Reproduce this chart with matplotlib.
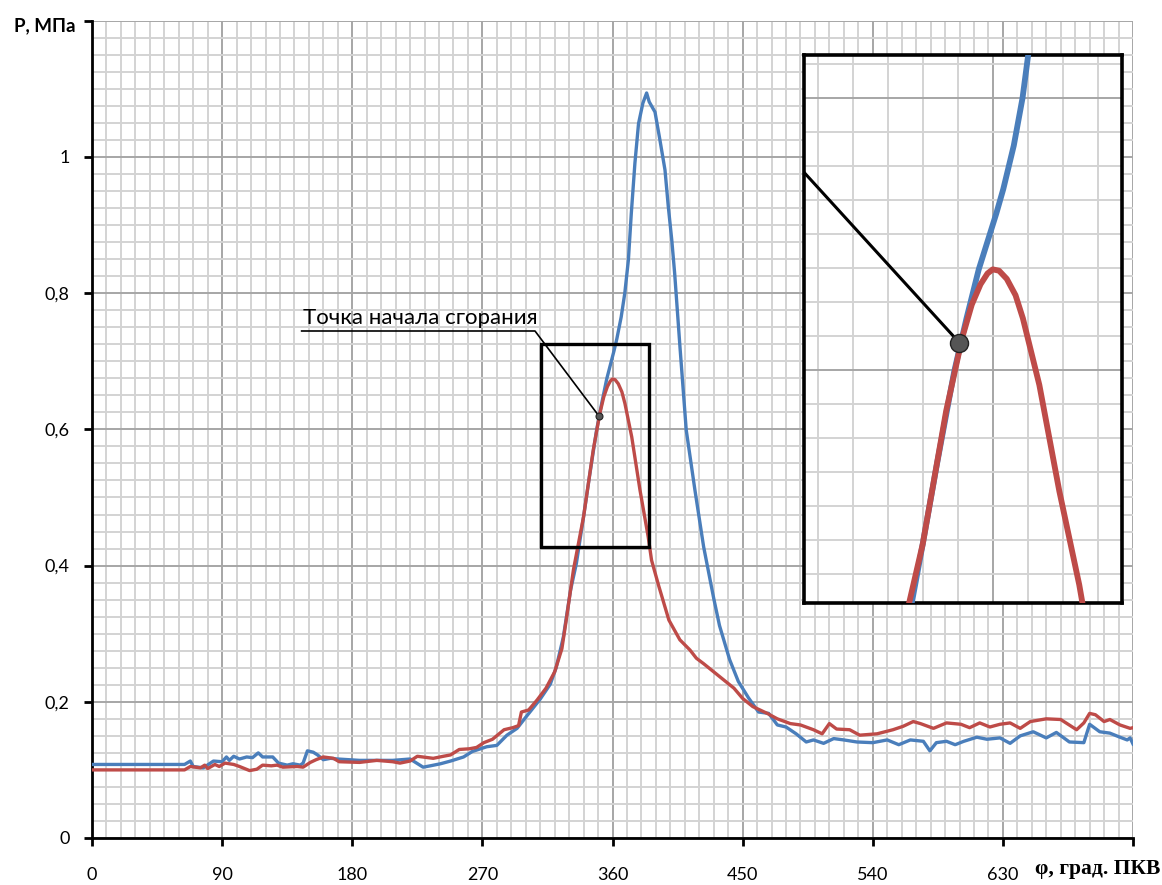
import matplotlib
matplotlib.use("Agg")
import matplotlib.pyplot as plt
from matplotlib.ticker import MultipleLocator
from matplotlib.patches import Rectangle

# crank angle (deg) and cylinder pressure (MPa), two runs
phi_blue = [0, 64, 68, 70, 77, 84, 90, 93, 95, 98, 102, 107, 111, 115, 118, 125,
            129, 135, 139, 144, 146, 149, 153, 156, 160, 165, 170, 185, 208, 220,
            229, 234, 241, 248, 257, 263, 273, 280, 287, 294, 301, 310, 317, 321,
            326, 331, 335, 340, 344, 349, 352.5, 356, 361, 363, 366, 368.5, 371,
            373, 375.5, 378, 381, 383.6, 385.4, 389.4, 392.8, 396.3, 398.6, 401,
            403, 406.7, 411, 417, 423, 430, 434, 441, 447, 454, 461, 468, 474,
            480, 487, 494, 499, 506, 513, 520, 529, 540, 550, 558, 566, 575,
            579.5, 584, 591, 597, 603, 612, 619, 628, 635, 642, 651, 660, 667,
            676, 686, 690, 697, 704, 711, 716, 718, 720]
p_blue = [0.108, 0.108, 0.113, 0.105, 0.103, 0.113, 0.112, 0.119, 0.114, 0.120,
          0.116, 0.119, 0.118, 0.125, 0.119, 0.119, 0.110, 0.107, 0.109, 0.107,
          0.110, 0.128, 0.126, 0.122, 0.115, 0.117, 0.116, 0.114, 0.114, 0.116,
          0.104, 0.106, 0.109, 0.113, 0.119, 0.127, 0.134, 0.136, 0.151, 0.161,
          0.180, 0.204, 0.226, 0.250, 0.295, 0.364, 0.403, 0.472, 0.530, 0.599,
          0.638, 0.674, 0.715, 0.733, 0.765, 0.800, 0.849, 0.917, 0.991, 1.049,
          1.079, 1.094, 1.081, 1.066, 1.025, 0.981, 0.927, 0.878, 0.829, 0.720,
          0.599, 0.511, 0.428, 0.352, 0.312, 0.262, 0.230, 0.206, 0.185, 0.183,
          0.166, 0.163, 0.153, 0.141, 0.144, 0.139, 0.146, 0.144, 0.141, 0.140,
          0.144, 0.137, 0.144, 0.142, 0.128, 0.140, 0.142, 0.137, 0.142, 0.148,
          0.145, 0.147, 0.139, 0.150, 0.156, 0.147, 0.155, 0.141, 0.140, 0.167,
          0.156, 0.154, 0.148, 0.144, 0.147, 0.138]

phi_red = [0, 64, 68, 75, 78, 80, 85, 88, 92, 98, 102, 109, 114, 118, 124, 128,
           132, 142, 146, 151, 155, 160, 167, 171, 185, 197, 208, 213, 220, 225,
           236, 243, 248, 254, 261, 266, 271, 277, 285, 291, 295, 297, 302, 308,
           314, 320, 325, 328, 333, 340, 346.7, 351.3, 354, 356.5, 358.5, 360,
           361.8, 364, 366.5, 368.6, 373.3, 379, 384.7, 387, 392, 399, 406.6,
           413.6, 418, 423, 430, 437, 444, 450, 457, 467, 474, 483, 490, 499,
           505, 510, 515, 524, 531, 543, 554, 561, 568, 573, 582, 591, 601, 607,
           614, 621, 628, 635, 642, 649, 660, 670, 681, 686, 690, 694, 700, 704,
           711, 718, 720]
p_red = [0.100, 0.100, 0.105, 0.103, 0.107, 0.102, 0.108, 0.105, 0.110, 0.108,
         0.105, 0.099, 0.101, 0.107, 0.106, 0.107, 0.104, 0.105, 0.104, 0.111,
         0.115, 0.119, 0.117, 0.112, 0.111, 0.114, 0.112, 0.110, 0.113, 0.120,
         0.117, 0.120, 0.122, 0.130, 0.131, 0.133, 0.140, 0.145, 0.159, 0.162,
         0.165, 0.185, 0.188, 0.203, 0.220, 0.244, 0.278, 0.320, 0.394, 0.472,
         0.570, 0.624, 0.648, 0.663, 0.671, 0.674, 0.673, 0.667, 0.655, 0.638,
         0.589, 0.511, 0.442, 0.408, 0.370, 0.320, 0.291, 0.276, 0.264, 0.256,
         0.244, 0.232, 0.220, 0.205, 0.193, 0.183, 0.175, 0.168, 0.166, 0.159,
         0.153, 0.168, 0.160, 0.159, 0.151, 0.153, 0.159, 0.164, 0.171, 0.168,
         0.161, 0.169, 0.167, 0.162, 0.169, 0.163, 0.167, 0.169, 0.161, 0.171,
         0.175, 0.174, 0.159, 0.169, 0.183, 0.181, 0.171, 0.174, 0.166, 0.161,
         0.162]

x_ticks = [0, 90, 180, 270, 360, 450, 540, 630, 720]
x_labels = ["0", "90", "180", "270", "360", "450", "540", "630", ""]
y_ticks = [0, 0.2, 0.4, 0.6, 0.8, 1.0, 1.2]
y_labels = ["0", "0,2", "0,4", "0,6", "0,8", "1", ""]

# start-of-combustion point and the zoom window around it
ign_phi, ign_p = 350.5, 0.620
box_phi = (310.5, 385.2)
box_p = (0.427, 0.725)
leader_start = (306.4, 0.7445)
note_left = 145.0

BLUE = "#4a7ebb"
RED = "#be4b48"
W, H = 1162, 885


def paper_grid(a):
    a.xaxis.set_minor_locator(MultipleLocator(10))
    a.yaxis.set_minor_locator(MultipleLocator(0.025))
    a.grid(which="minor", color="#d3d3d3", lw=1.4)
    a.grid(which="major", color="#a6a6a6", lw=1.4)
    a.set_axisbelow(True)


fig = plt.figure(figsize=(W / 100, H / 100), dpi=100)
ax = fig.add_axes([92 / W, 1 - 838 / H, 1041 / W, (838 - 20.8) / H])
ax.set_xlim(0, 720)
ax.set_ylim(0, 1.2)
ax.xaxis.set_major_locator(MultipleLocator(90))
ax.yaxis.set_major_locator(MultipleLocator(0.2))
paper_grid(ax)
for s in ("top", "right"):
    ax.spines[s].set_visible(False)
for s in ("left", "bottom"):
    ax.spines[s].set_linewidth(2)
ax.set_xticks(x_ticks, x_labels, fontfamily="Lato", fontsize=13)
ax.set_yticks(y_ticks, y_labels, fontfamily="Lato", fontsize=13)
ax.tick_params(which="major", direction="out", length=6, width=2, color="black")
ax.tick_params(axis="x", pad=15)
ax.tick_params(axis="y", pad=10)
ax.tick_params(which="minor", length=0)

ax.plot(phi_blue, p_blue, color=BLUE, lw=2.4, zorder=3)
ax.plot(phi_red, p_red, color=RED, lw=2.4, zorder=4)

ax.add_patch(Rectangle((box_phi[0], box_p[0]), box_phi[1] - box_phi[0],
                       box_p[1] - box_p[0], fill=False, ec="black", lw=2.4, zorder=5))
ax.plot([note_left, leader_start[0], ign_phi], [leader_start[1], leader_start[1], ign_p],
        color="black", lw=1.2, zorder=6)
ax.plot(ign_phi, ign_p, "o", ms=5, mfc="#555555", mec="#222222", mew=0.8, zorder=7)
ax.text(note_left + 1, leader_start[1] + 0.005, "Точка начала сгорания",
        fontfamily="Lato", fontsize=16, ha="left", va="bottom", zorder=6)

fig.text(76 / W, 1 - 26 / H, "P, МПа", fontfamily="Lato", fontweight="bold",
         fontsize=13.5, ha="right", va="center")
fig.text(1160 / W, 1 - 869 / H, "φ, град. ПКВ", fontfamily="Liberation Serif",
         fontweight="bold", fontsize=15.5, ha="right", va="center")

# magnified view of the ignition region
ins = fig.add_axes([804 / W, 1 - 603 / H, 318 / W, 548 / H])
ins.set_xlim(306.1, 396.9)
ins.set_ylim(0.4287, 0.8316)
ins.xaxis.set_major_locator(MultipleLocator(90))
ins.yaxis.set_major_locator(MultipleLocator(0.2))
paper_grid(ins)
ins.tick_params(which="both", length=0, labelbottom=False, labelleft=False)
for s in ins.spines.values():
    s.set_linewidth(2.6)
    s.set_color("black")
ins.plot(phi_blue, p_blue, color=BLUE, lw=4.2, zorder=3)
ins.plot(phi_red, p_red, color=RED, lw=4.2, zorder=4)
ins.plot([leader_start[0], ign_phi], [leader_start[1], ign_p], color="black", lw=2.2, zorder=6)
ins.plot(ign_phi, ign_p, "o", ms=13, mfc="#555555", mec="#222222", mew=1, zorder=7)

fig.savefig("out.png", dpi=100)
